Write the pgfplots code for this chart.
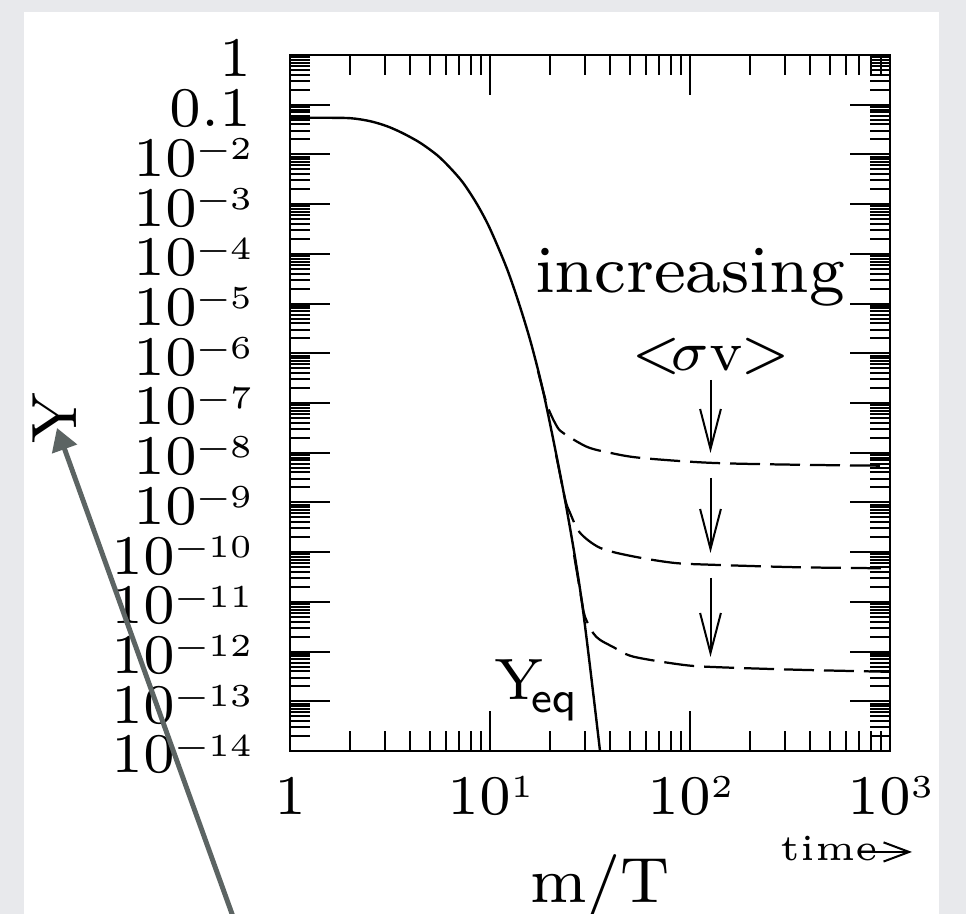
\documentclass[border=0pt]{standalone}
\usepackage{pgfplots}
\pgfplotsset{compat=1.18}
\usetikzlibrary{arrows.meta}

\definecolor{pagegray}{RGB}{232,233,236}
\definecolor{pointer}{RGB}{92,100,99}

% powers of ten with a small raised exponent
\newcommand\pw[1]{10\raisebox{2.1pt}{\fontsize{4}{4}\selectfont #1}}
\newcommand\npw[1]{10\raisebox{2.1pt}{\fontsize{4}{4}\selectfont\textminus#1}}

% minor ticks 2..9 in every decade from 1e-14 to 1
\def\yminorlist{2e-14}
\foreach \e in {-14,...,-1}{\foreach \m in {2,...,9}{\xdef\yminorlist{\yminorlist,\m e\e}}}

% equilibrium abundance Y_eq against m/T
\pgfplotstableread{
x      y
1      0.0547
1.4125 0.0546
2.0    0.0535
2.512  0.0466
3.055  0.0369
3.664  0.0267
4.467  0.01719
5.445  9.64e-3
6.31   5.40e-3
7.33   2.70e-3
8.61   1.0e-3
10     3.2e-4
12.16  5.0e-5
14.13  8.63e-6
16.22  1.35e-6
18.84  1.16e-7
23.71  1.13e-9
28.84  9.55e-12
35.6   9.0e-15
}\yeq

% freeze-out curves for three annihilation cross sections
\pgfplotstableread{
x      y
17.38  4.4e-7
19.28  9.2e-8
21.38  3.64e-8
23.17  2.51e-8
30.55  1.31e-8
39.8   9.95e-9
56.2   7.89e-9
125.9  6.26e-9
354.8  5.71e-9
1000   5.46e-9
}\freezeA

\pgfplotstableread{
x      y
21.4   9.1e-9
23.71  1.2e-9
25.12  6.18e-10
28.18  2.45e-10
35.48  1.22e-10
50.1   8.44e-11
82.2   6.1e-11
130.3  5.56e-11
354.8  4.95e-11
1000   4.72e-11
}\freezeB

\pgfplotstableread{
x      y
26.3   8.9e-11
28.84  9.8e-12
29.85  4.99e-12
32.73  2.38e-12
35.48  1.72e-12
41.21  1.24e-12
51.88  7.93e-13
92.26  5.4e-13
136.5  4.85e-13
354.8  4.29e-13
1000   3.91e-13
}\freezeC

\begin{document}
\begin{tikzpicture}
\path[use as bounding box] (0,0) rectangle (120.75pt,114.25pt);
\begin{scope}[x=0.125pt,y=-0.125pt,yshift=114.25pt]
  \fill[pagegray] (0,0) rectangle (966,914);
  \fill[white] (24,12) rectangle (939,914);
\end{scope}

\begin{axis}[
  at={(36.25pt,20.375pt)}, anchor=south west,
  scale only axis, width=75pt, height=87pt,
  xmode=log, ymode=log,
  xmin=1, xmax=1000, ymin=1e-14, ymax=1,
  xtick={1,10,100,1000},
  xticklabels={1,\pw{1},\pw{2},\pw{3}},
  minor xtick={2,3,4,5,6,7,8,9,20,30,40,50,60,70,80,90,200,300,400,500,600,700,800,900},
  ytick={1e-14,1e-13,1e-12,1e-11,1e-10,1e-9,1e-8,1e-7,1e-6,1e-5,1e-4,1e-3,1e-2,0.1,1},
  yticklabels={\npw{14},\npw{13},\npw{12},\npw{11},\npw{10},\npw{9},\npw{8},\npw{7},\npw{6},\npw{5},\npw{4},\npw{3},\npw{2},0.1\hspace{0.7pt},1\hspace{0.7pt}},
  minor ytick/.expanded=\yminorlist,
  tick align=inside,
  major tick length=5pt, minor tick length=2.5pt,
  every tick/.style={black, line width=0.25pt},
  axis line style={line width=0.25pt},
  tick label style={font=\fontsize{7}{8}\selectfont, inner sep=0pt},
  xticklabel style={anchor=base, yshift=-7.9pt},
  yticklabel style={anchor=base east, xshift=-4.6pt, yshift=-2.75pt},
  clip=true,
]
\addplot[black, line width=0.3pt, smooth] table {\yeq};
\addplot[black, line width=0.28pt, smooth, dash pattern=on 3.75pt off 1.25pt] table {\freezeA};
\addplot[black, line width=0.28pt, smooth, dash pattern=on 3.75pt off 1.25pt] table {\freezeB};
\addplot[black, line width=0.28pt, smooth, dash pattern=on 3.75pt off 1.25pt] table {\freezeC};
\end{axis}

\begin{scope}[x=0.125pt,y=-0.125pt,yshift=114.25pt,
  every node/.style={inner sep=0pt, font=\fontsize{8}{9.6}\selectfont}]
  \clip (0,0) rectangle (966,914);
  \node[anchor=base, font=\fontsize{8.4}{10}\selectfont] at (690,293) {increasing};
  \node[anchor=base, font=\fontsize{7}{8}\selectfont] at (711,371) {$\mathord{<}\mkern-3mu\sigma\mathrm{v}\mkern-1mu\mathord{>}$};
  \foreach \ya/\yb in {380/453, 478/553, 578/657}
    \draw[line width=0.25pt, -{Straight Barb[length=5pt, width=2.6pt]}] (710.5,\ya) -- (710.5,\yb);
  \node[anchor=base west, font=\fontsize{7.3}{8}\selectfont] at (493,700) {Y};
  \node[anchor=base west, font=\fontsize{5.5}{6}\sffamily] at (530,713) {eq};
  \node[rotate=90, anchor=base] at (77,418) {Y};
  \node[anchor=base] at (600,903) {m/T};
  \node[anchor=base west, font=\fontsize{4.6}{6}\selectfont] at (779,861) {time};
  \draw[line width=0.25pt, -{Straight Barb[length=3.2pt, width=2.4pt]}] (860,852) -- (912,852);
  \draw[pointer, line width=0.62pt, -{Triangle[length=2.8pt, width=3.2pt]}] (236,925) -- (57,428);
\end{scope}
\end{tikzpicture}
\end{document}
